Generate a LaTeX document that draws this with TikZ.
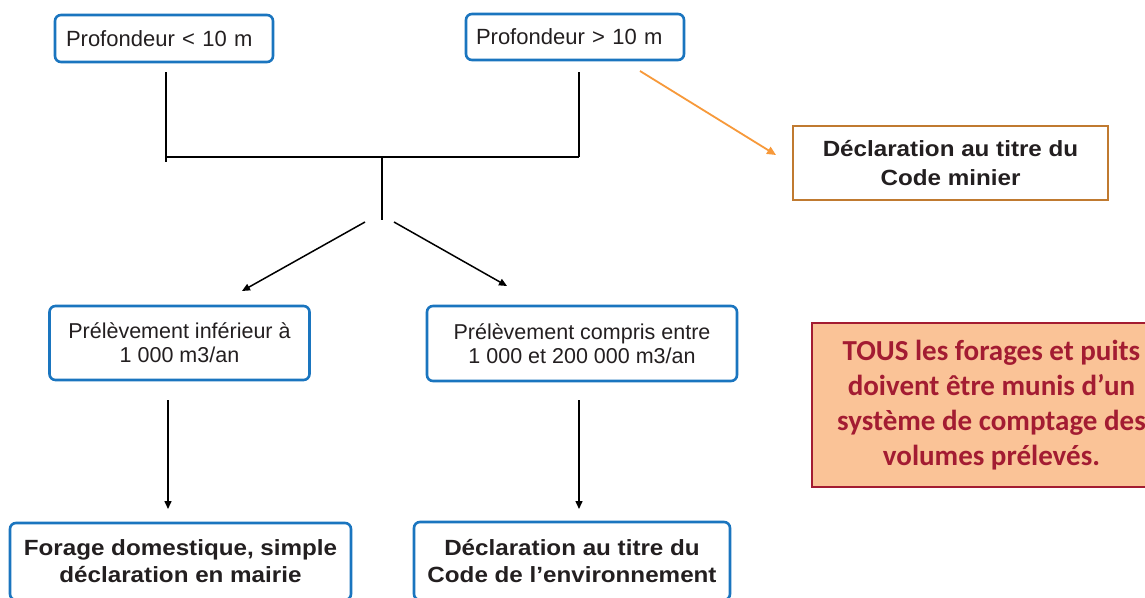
\documentclass[tikz,border=0pt]{standalone}
\usepackage{fontspec}
\setmainfont{Liberation Sans}
\newfontfamily\widefont[FakeStretch=1.1]{Liberation Sans}
\newfontfamily\calibrifont{Carlito}
\usetikzlibrary{arrows.meta}
\definecolor{boxblue}{HTML}{1A75BF}
\definecolor{txtdark}{HTML}{231F20}
\definecolor{minebrown}{HTML}{C07A30}
\definecolor{arroworange}{HTML}{F7993A}
\definecolor{peach}{HTML}{FAC397}
\definecolor{wine}{HTML}{A31C32}
\tikzset{
  bluebox/.style={draw=boxblue, line width=2.6pt, rounded corners=6pt, fill=white, text=txtdark, inner sep=0pt},
  plaintxt/.style={font=\fontsize{21.5}{24}\selectfont, align=center},
  boldtxt/.style={font=\widefont\bfseries\fontsize{22}{27}\selectfont, align=center},
  conn/.style={line width=1.5pt, draw=black},
  arr/.style={conn, -{Triangle[length=8pt,width=7pt]}},
}
\begin{document}
\begin{tikzpicture}[x=1pt,y=-1pt]
\useasboundingbox (0,0) rectangle (1145,597);
\clip (0,0) rectangle (1145,597);
\fill[white] (0,0) rectangle (1145,597);

% top boxes
\node[bluebox, font=\fontsize{22}{24}\selectfont, align=left, text width=196pt, inner xsep=11pt, minimum height=47pt] (p1) at (164,38.5) {Profondeur < 10 m};
\node[bluebox, font=\fontsize{22}{24}\selectfont, align=left, text width=198pt, inner xsep=10pt, minimum height=46pt] (p2) at (575,37) {Profondeur > 10 m};

% code minier
\node[draw=minebrown, line width=2.6pt, text=txtdark, boldtxt, font=\widefont\bfseries\fontsize{22}{29.5}\selectfont, minimum width=315pt, minimum height=74pt, inner sep=0pt] (cm) at (950.5,163) {Déclaration au titre du\\Code minier};

% middle boxes
\node[bluebox, plaintxt, minimum width=260pt, minimum height=74pt] (b1) at (179.5,343) {Prélèvement inférieur à\\1 000 m3/an};
\node[bluebox, plaintxt, minimum width=310pt, minimum height=75pt] (b2) at (582,343.5) {Prélèvement compris entre\\1 000 et 200 000 m3/an};

% bottom boxes
\node[bluebox, boldtxt, minimum width=341pt, minimum height=77pt] (f1) at (180.5,561.5) {Forage domestique, simple\\déclaration en mairie};
\node[bluebox, boldtxt, minimum width=316pt, minimum height=78pt] (f2) at (572,561) {Déclaration au titre du\\Code de l’environnement};

% note box
\node[draw=wine, fill=peach, line width=2.6pt, text=wine, align=center, font=\calibrifont\bfseries\fontsize{29}{35}\selectfont, minimum width=359pt, minimum height=164pt, inner sep=0pt] (note) at (991.5,405) {TOUS les forages et puits\\doivent être munis d’un\\système de comptage des\\volumes prélevés.};

% connector coordinates
\coordinate (l1a) at (166,72);
\coordinate (l1b) at (166,162);
\coordinate (l2a) at (579,72);
\coordinate (l2b) at (579,157);
\coordinate (hl) at (166,157);
\coordinate (mc) at (382,157);
\coordinate (md) at (382,220);
\coordinate (dla) at (365,222);
\coordinate (dlb) at (242,291);
\coordinate (dra) at (394,222);
\coordinate (drb) at (507,286);
\coordinate (va) at (168,400);
\coordinate (vb) at (168,509);
\coordinate (wa) at (579,400);
\coordinate (wb) at (579,509);
\coordinate (oa) at (640,71);
\coordinate (ob) at (776,155);

\draw[conn] (l1a) -- (l1b);
\draw[conn] (l2a) -- (l2b);
\draw[conn] (hl) -- (l2b);
\draw[conn] (mc) -- (md);
\draw[arr] (dla) -- (dlb);
\draw[arr] (dra) -- (drb);
\draw[arr] (va) -- (vb);
\draw[arr] (wa) -- (wb);
\draw[draw=arroworange, line width=1.8pt, -{Triangle[length=9pt,width=8pt]}] (oa) -- (ob);
\end{tikzpicture}
\end{document}
